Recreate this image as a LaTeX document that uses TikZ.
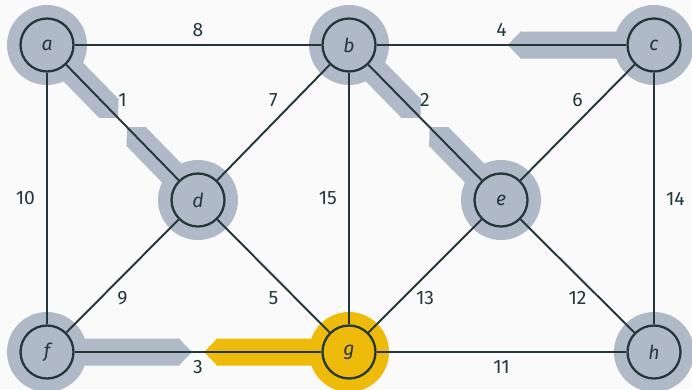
\documentclass[tikz,border=0pt]{standalone}
\usepackage{fontspec}
\setmainfont{Fira Sans}
\usetikzlibrary{arrows.meta,calc}
\definecolor{edgecol}{HTML}{23373B}
\definecolor{treecol}{HTML}{AFB9C7}
\definecolor{curcol}{HTML}{EFBB0A}
\definecolor{bgcol}{HTML}{FAFAFA}
\pgfdeclarelayer{bg}
\pgfsetlayers{bg,main}

\tikzset{
  vertex/.style={circle, draw=edgecol, line width=1.3pt, minimum size=1.06cm, inner sep=0pt, text=edgecol, font=\fontsize{11}{13}\selectfont\itshape},
  edge/.style={draw=edgecol, line width=1.1pt},
  wt/.style={text=edgecol, font=\fontsize{11}{13}\selectfont},
  halo/.style={fill=#1},
  half/.style={draw=#1, line width=0.54cm, -{Triangle[length=0pt .5, width=0pt 1]}}
}

\begin{document}
\begin{tikzpicture}[x=0.02cm, y=-0.02cm]
\useasboundingbox (0,0) rectangle (692,389);

% vertices
\node[vertex] (a) at (47,45) {a};
\node[vertex] (b) at (349,45) {b};
\node[vertex] (c) at (654,45) {c};
\node[vertex] (d) at (198,200) {d};
\node[vertex] (e) at (501,200) {e};
\node[vertex] (f) at (47,352) {f};
\node[vertex] (g) at (349,352) {g};
\node[vertex] (h) at (654,352) {h};

% weighted edges
\draw[edge] (a) -- node[wt, above=1pt] {8} (b);
\draw[edge] (b) -- node[wt, above=1pt] {4} (c);
\draw[edge] (a) -- node[wt, above=5pt] {1} (d);
\draw[edge] (b) -- node[wt, above=5pt] {7} (d);
\draw[edge] (b) -- node[wt, above=5pt] {2} (e);
\draw[edge] (c) -- node[wt, above=5pt] {6} (e);
\draw[edge] (a) -- node[wt, left=3pt] {10} (f);
\draw[edge] (b) -- node[wt, left=3pt] {15} (g);
\draw[edge] (c) -- node[wt, right=3pt] {14} (h);
\draw[edge] (d) -- node[wt, below=5pt] {9} (f);
\draw[edge] (d) -- node[wt, below=5pt] {5} (g);
\draw[edge] (e) -- node[wt, below=5pt] {13} (g);
\draw[edge] (e) -- node[wt, below=5pt] {12} (h);
\draw[edge] (f) -- node[wt, below=1pt] {3} (g);
\draw[edge] (g) -- node[wt, below=1pt] {11} (h);

\begin{pgfonlayer}{bg}
  \fill[bgcol] (0,0) rectangle (692,389);
  % halos round the vertices
  \foreach \v in {a,b,c,d,e,f,h}
    \fill[halo=treecol] (\v) circle[radius=0.8cm];
  \fill[halo=curcol] (g) circle[radius=0.8cm];
  % half edges of the tree
  \draw[half=treecol] (a.center) -- ($(a)!0.47!(d)$);
  \draw[half=treecol] (d.center) -- ($(d)!0.47!(a)$);
  \draw[half=treecol] (b.center) -- ($(b)!0.47!(e)$);
  \draw[half=treecol] (e.center) -- ($(e)!0.47!(b)$);
  \draw[half=treecol] (c.center) -- ($(c)!0.48!(b)$);
  \draw[half=treecol] (f.center) -- ($(f)!0.48!(g)$);
  \draw[half=curcol] (g.center) -- ($(g)!0.48!(f)$);
\end{pgfonlayer}
\end{tikzpicture}
\end{document}
